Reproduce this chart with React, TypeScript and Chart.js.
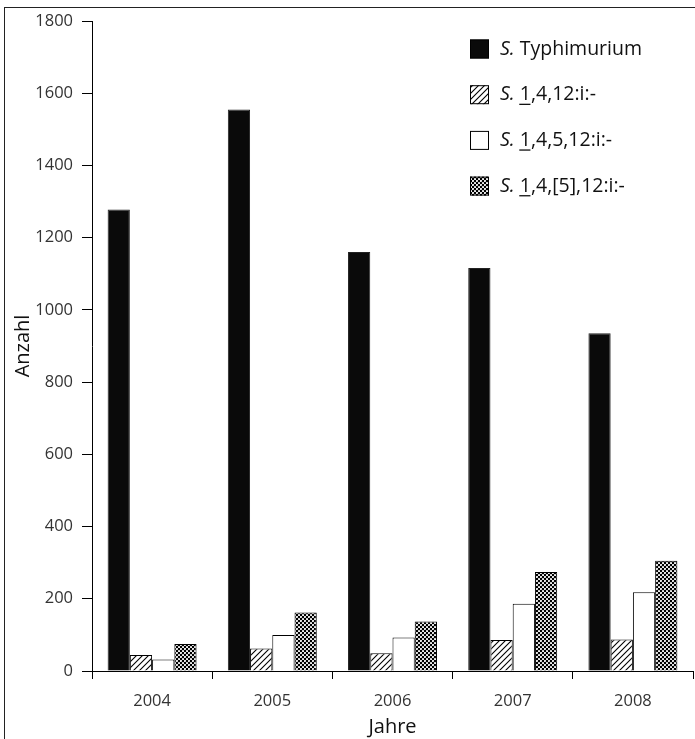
import React, { useEffect, useRef } from 'react';
import { Chart, registerables } from 'chart.js';

Chart.register(...registerables);

const categories = ['2004', '2005', '2006', '2007', '2008'];
const typhimurium = [1278, 1555, 1160, 1116, 935];
const s_1_4_12 = [44, 62, 49, 86, 87];
const s_1_4_5_12 = [32, 100, 93, 186, 218];
const s_1_4_opt5_12 = [75, 162, 137, 274, 305];
const yTicks = [0, 200, 400, 600, 800, 1000, 1200, 1400, 1600, 1800];
const xTitle = 'Jahre';
const yTitle = 'Anzahl';

type Seg = { t: string; italic?: boolean; underline?: boolean };
const seriesNames = ['S. Typhimurium', 'S. 1,4,12:i:-', 'S. 1,4,5,12:i:-', 'S. 1,4,[5],12:i:-'];
const legendSegments: Seg[][] = [
  [{ t: 'S.', italic: true }, { t: ' Typhimurium' }],
  [{ t: 'S.', italic: true }, { t: ' ' }, { t: '1', underline: true }, { t: ',4,12:i:-' }],
  [{ t: 'S.', italic: true }, { t: ' ' }, { t: '1', underline: true }, { t: ',4,5,12:i:-' }],
  [{ t: 'S.', italic: true }, { t: ' ' }, { t: '1', underline: true }, { t: ',4,[5],12:i:-' }],
];

const FONT = "'Open Sans', 'Noto Sans', sans-serif";

function makeHatch(ctx: CanvasRenderingContext2D): CanvasPattern | string {
  const n = 6;
  const c = document.createElement('canvas');
  c.width = n;
  c.height = n;
  const g = c.getContext('2d')!;
  g.fillStyle = '#fff';
  g.fillRect(0, 0, n, n);
  g.strokeStyle = '#000';
  g.lineWidth = 1.1;
  g.beginPath();
  g.moveTo(-1, n + 1);
  g.lineTo(n + 1, -1);
  g.moveTo(-1, 1);
  g.lineTo(1, -1);
  g.moveTo(n - 1, n + 1);
  g.lineTo(n + 1, n - 1);
  g.stroke();
  return ctx.createPattern(c, 'repeat') || '#888';
}

function makeChecker(ctx: CanvasRenderingContext2D): CanvasPattern | string {
  const c = document.createElement('canvas');
  c.width = 4;
  c.height = 4;
  const g = c.getContext('2d')!;
  g.fillStyle = '#000';
  g.fillRect(0, 0, 4, 4);
  g.fillStyle = '#fff';
  g.beginPath();
  g.arc(1, 1, 1.05, 0, Math.PI * 2);
  g.arc(3, 3, 1.05, 0, Math.PI * 2);
  g.fill();
  return ctx.createPattern(c, 'repeat') || '#444';
}

const legendPlugin = {
  id: 'customLegend',
  afterDraw(chart: any) {
    const ctx: CanvasRenderingContext2D = chart.ctx;
    const x0 = 470;
    const boxSize = 19;
    const textX = 500;
    const y0 = 49;
    const dy = 45.7;
    ctx.save();
    chart.data.datasets.forEach((ds: any, i: number) => {
      const cy = y0 + i * dy;
      ctx.fillStyle = ds.backgroundColor;
      ctx.fillRect(x0, cy - boxSize / 2, boxSize, boxSize);
      ctx.strokeStyle = '#000';
      ctx.lineWidth = 1;
      ctx.strokeRect(x0 + 0.5, cy - boxSize / 2 + 0.5, boxSize - 1, boxSize - 1);
      let x = textX;
      ctx.textBaseline = 'middle';
      ctx.textAlign = 'left';
      ctx.fillStyle = '#111';
      for (const seg of legendSegments[i]) {
        ctx.font = `${seg.italic ? 'italic ' : ''}19.5px ${FONT}`;
        ctx.fillText(seg.t, x, cy);
        const w = ctx.measureText(seg.t).width;
        if (seg.underline) {
          ctx.fillRect(x - 0.5, cy + 9, w, 1.3);
        }
        x += w;
      }
    });
    ctx.restore();
  },
};

export default function App() {
  const ref = useRef<HTMLCanvasElement | null>(null);
  useEffect(() => {
    const canvas = ref.current!;
    const ctx = canvas.getContext('2d')!;
    const hatch = makeHatch(ctx);
    const checker = makeChecker(ctx);
    const chart = new Chart(canvas, {
      type: 'bar',
      data: {
        labels: categories,
        datasets: [
          { label: seriesNames[0], data: typhimurium, backgroundColor: '#0a0a0a', borderColor: '#222', borderWidth: 1 },
          { label: seriesNames[1], data: s_1_4_12, backgroundColor: hatch as any, borderColor: '#000', borderWidth: 1 },
          { label: seriesNames[2], data: s_1_4_5_12, backgroundColor: '#fff', borderColor: '#000', borderWidth: 1 },
          { label: seriesNames[3], data: s_1_4_opt5_12, backgroundColor: checker as any, borderColor: '#000', borderWidth: 1 },
        ],
      },
      options: {
        responsive: false,
        animation: false,
        devicePixelRatio: 1,
        layout: { padding: { top: 21, right: 2, left: 0, bottom: 0 } },
        plugins: { legend: { display: false }, tooltip: { enabled: false } },
        datasets: { bar: { categoryPercentage: 0.74, barPercentage: 1 } },
        scales: {
          x: {
            type: 'category',
            offset: true,
            grid: { offset: true, drawOnChartArea: false, drawTicks: true, tickLength: 8, color: '#000', lineWidth: 1 },
            border: { display: true, color: '#000', width: 1 },
            ticks: { font: { family: FONT, size: 16.5 }, color: '#333', padding: 12, maxRotation: 0 },
            title: { display: true, text: xTitle, font: { family: FONT, size: 20 }, color: '#111', padding: { top: 0, bottom: 0 } },
            afterFit: (s: any) => { s.height = 68; },
          },
          y: {
            min: 0,
            max: 1800,
            afterBuildTicks: (s: any) => { s.ticks = yTicks.map((v) => ({ value: v })); },
            grid: { drawOnChartArea: false, drawTicks: true, tickLength: 10, color: '#000', lineWidth: 1 },
            border: { display: true, color: '#000', width: 1 },
            ticks: { font: { family: FONT, size: 16.5 }, color: '#333', padding: 9, callback: (v: any) => String(v) },
            title: { display: true, text: yTitle, font: { family: FONT, size: 20 }, color: '#111', padding: { top: 11, bottom: 0 } },
            afterFit: (s: any) => { s.width = 92; },
          },
        },
      },
      plugins: [legendPlugin],
    });
    return () => chart.destroy();
  }, []);
  return (
    <div style={{ position: 'absolute', left: 0, top: 0, width: 695, height: 739, background: '#fff' }}>
      <div style={{ position: 'absolute', left: 4, top: 7, right: 0, bottom: 0, borderLeft: '1px solid #222', borderTop: '1px solid #222' }} />
      <canvas ref={ref} width={695} height={739} style={{ position: 'absolute', left: 0, top: 0, display: 'block' }} />
    </div>
  );
}
